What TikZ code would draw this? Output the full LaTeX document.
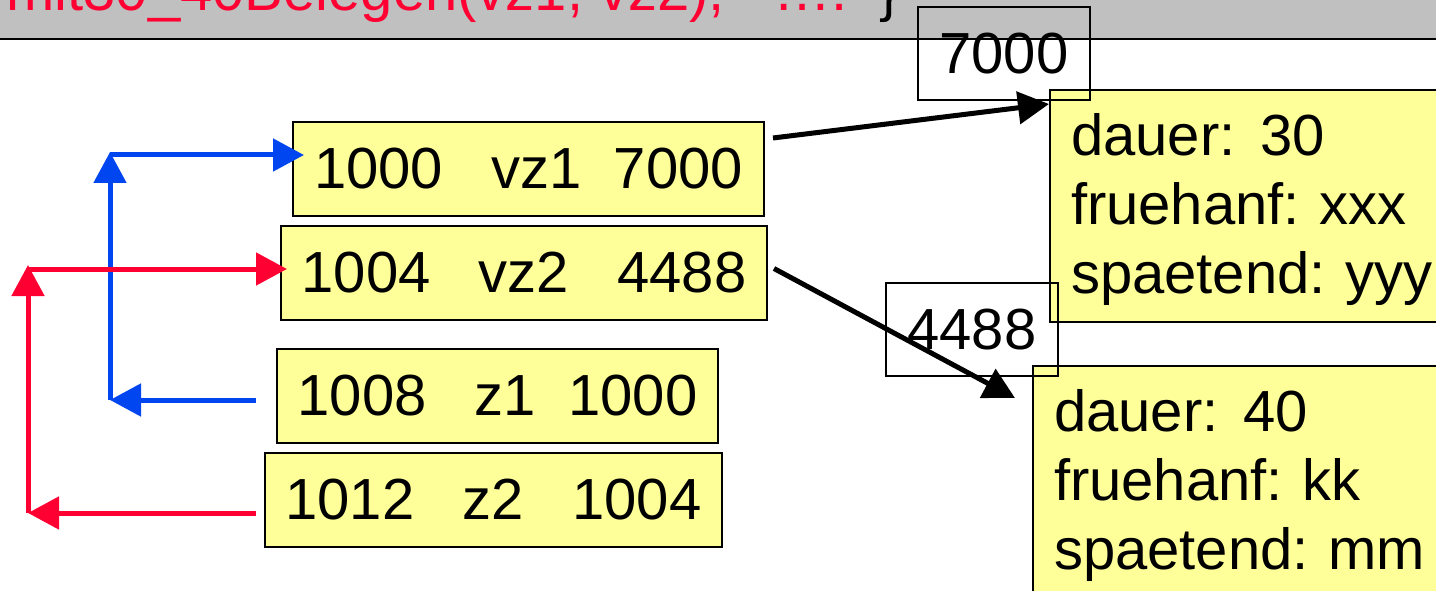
\documentclass[tikz,border=0pt]{standalone}
\usepackage{fontspec}
\setmainfont{Liberation Sans}
\usetikzlibrary{arrows.meta}

\definecolor{amarelo}{RGB}{255,255,153}
\definecolor{azul}{RGB}{0,70,240}
\definecolor{vermelho}{RGB}{255,0,51}
\definecolor{cinza}{RGB}{192,192,192}

\begin{document}
\begin{tikzpicture}[x=1pt,y=-1pt,
  every node/.style={font=\fontsize{58}{69}\selectfont\frenchspacing, inner sep=0pt},
  celula/.style={draw, line width=2pt, fill=amarelo, minimum height=94pt},
  registro/.style={draw, line width=2pt, fill=amarelo, anchor=north west,
    minimum height=232pt, text width=420pt, inner xsep=21pt, text height=50pt, align=left},
  endereco/.style={draw, line width=2pt, minimum width=172pt, minimum height=93pt},
  seta/.style={line width=5pt, -{Triangle[length=31pt,width=32pt]}}]

 % dimensões da figura
    \def\larg{1436}
    \def\alt{591}
    \def\faixa{39}      % altura da faixa cinza

    \useasboundingbox (0,0) rectangle (\larg,\alt);
    \clip (0,0) rectangle (\larg,\alt);

    % faixa cinza com a chamada
    \fill[cinza] (0,0) rectangle (\larg,\faixa);
    \draw[line width=2pt] (0,\faixa) -- (\larg,\faixa);
    \node[anchor=base west] (chamada) at (6,11)
      {\color{vermelho}mit30\_40Belegen(vz1, vz2);~~~….~~\color{black}\}};

    % células da memória
    \node[celula, minimum width=471pt] (vzeins) at (528.5,169) {1000~~~vz1~~7000};
    \node[celula, minimum width=486pt] (vzzwei) at (524,272.5) {1004~~~vz2~~~4488};
    \node[celula, minimum width=441pt] (zeins)  at (497.5,396) {1008~~~z1~~1000};
    \node[celula, minimum width=457pt] (zzwei)  at (493.5,500) {1012~~~z2~~~1004};

    % registros apontados
    \node[registro] (rec7000) at (1049,89)  {dauer:\hspace{25pt}30\\fruehanf: xxx\\spaetend: yyy};
    \node[registro] (rec4488) at (1032,365) {dauer:\hspace{25pt}40\\fruehanf: kk\\spaetend: mm};

    % endereços dos registros
    \node[endereco] (end7000) at (1004,53.5)  {7000};
    \node[endereco] (end4488) at (972,329.5)  {4488};

    % ponteiros
    \draw[seta] ([xshift=8pt,yshift=31pt]vzeins.east) -- ([yshift=-15pt]rec7000.north west);
    \draw[seta] ([xshift=6pt,yshift=4pt]vzzwei.east) -- ([xshift=-17pt,yshift=-33pt]rec4488.north west);

    % z1 -> vz1
    \coordinate (azulA) at (110,400);
    \coordinate (azulB) at (110,155);
    \draw[seta, azul] ([xshift=-20pt,yshift=-4pt]zeins.west) -- (azulA);
    \draw[seta, azul, shorten >=-3pt] (azulA) -- (azulB);
    \draw[seta, azul, shorten >=-12pt] (azulB) -- (vzeins.west |- azulB);

    % z2 -> vz2
    \coordinate (vermA) at (28,513);
    \coordinate (vermB) at (28,269);
    \draw[seta, vermelho] ([xshift=-8pt,yshift=-13pt]zzwei.west) -- (vermA);
    \draw[seta, vermelho, shorten >=-4pt] (vermA) -- (vermB);
    \draw[seta, vermelho, shorten >=-7pt] (vermB) -- (vzzwei.west |- vermB);

\end{tikzpicture}
\end{document}
